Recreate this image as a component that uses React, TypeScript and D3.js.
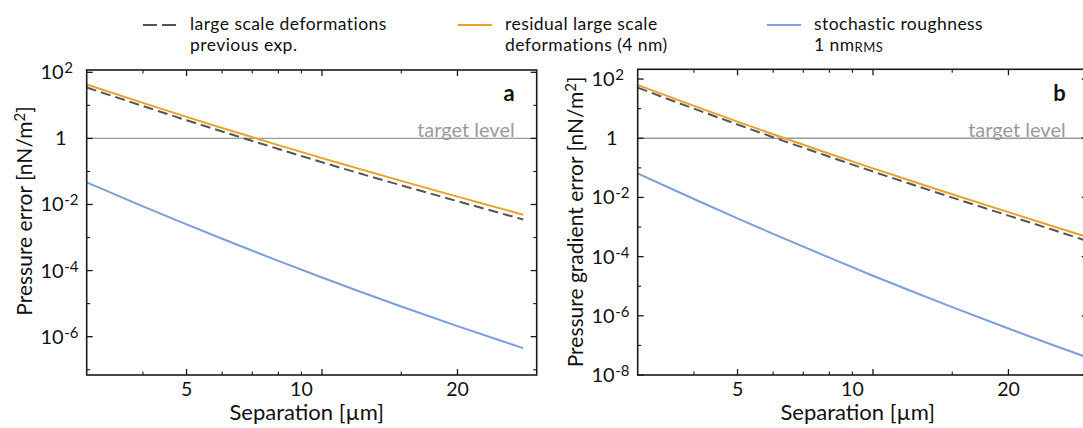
import React from 'react';
import * as d3 from 'd3';

// separations in µm
const separationA = [3, 4, 5, 6, 8, 10, 12, 15, 20, 25, 28];
const pressurePrevExp = [34.7, 9.55, 3.55, 1.62, 0.479, 0.19, 0.091, 0.038, 0.0126, 0.0054, 0.0035];
const pressureResidual = [42.7, 11.9, 4.49, 2.07, 0.627, 0.253, 0.124, 0.0518, 0.0173, 0.0075, 0.0049];
const pressureRoughness = [0.0468, 0.00881, 0.00249, 9.16e-4, 1.96e-4, 6.15e-5, 2.45e-5, 8.22e-6, 2.09e-6, 7.5e-7, 4.5e-7];

const separationB = [3, 4, 5, 6, 8, 10, 12, 15, 20, 25, 30];
const gradientPrevExp = [51.3, 10.0, 2.92, 1.08, 0.237, 0.075, 0.03, 0.00989, 0.00243, 0.000822, 0.000332];
const gradientResidual = [63.1, 12.4, 3.64, 1.36, 0.301, 0.0962, 0.0387, 0.0128, 0.00318, 0.00109, 0.000458];
const gradientRoughness = [0.0646, 0.00885, 0.00196, 5.9e-4, 9.23e-5, 2.26e-5, 7.45e-6, 1.97e-6, 3.72e-7, 1.05e-7, 3.87e-8];

const xMajorTicks = [5, 10, 20];
const xMinorTicks = [4, 6, 7, 8, 9, 15];
const xTickLabels = [
  { at: 5, text: '5' },
  { at: 9, text: '10' },
  { at: 20, text: '20' },
];

const yExpA = [2, 0, -2, -4, -6];
const yExpB = [2, 0, -2, -4, -6, -8];
const yMinorExp = [1, -1, -3, -5, -7];

const targetLevel = 1;

const COLORS = { prev: '#555555', residual: '#E9A12C', rough: '#7B9FD7', target: '#9a9a9a', frame: '#1a1a1a' };
const FONT = 'Lato, "Open Sans", sans-serif';

type PanelProps = {
  left: number; top: number; width: number; bottom: number;
  yDomain: [number, number];
  sep: number[]; prev: number[]; residual: number[]; rough: number[];
  yExp: number[]; yLabel: string; letter: string; labelY: number;
};

function Panel(p: PanelProps) {
  const x = d3.scaleLog().domain([3, 30]).range([p.left, p.left + p.width]);
  const y = d3.scaleLog().domain(p.yDomain).range([p.bottom, p.top]);
  const right = p.left + p.width;
  const line = (vals: number[]) =>
    d3.line<number>().x((_, i) => x(p.sep[i])).y(d => y(d)).curve(d3.curveMonotoneX)(vals) || '';

  const majLen = 6, minLen = 3.5;
  const clipId = 'clip-' + p.letter;

  return (
    <g>
      <defs>
        <clipPath id={clipId}>
          <rect x={p.left} y={p.top} width={p.width} height={p.bottom - p.top} />
        </clipPath>
      </defs>
      {/* target level */}
      <line x1={p.left} x2={right} y1={y(targetLevel)} y2={y(targetLevel)} stroke={COLORS.target} strokeWidth={1.3} />
      <text x={right - 22} y={y(targetLevel) - 1} textAnchor="end" fontFamily={FONT} fontSize={20} fill={COLORS.target}>target level</text>
      <text x={right - 22} y={101} textAnchor="end" fontFamily={FONT} fontSize={22} fontWeight="bold" fill="#111">{p.letter}</text>

      <g clipPath={`url(#${clipId})`} fill="none">
        <path d={line(p.rough)} stroke={COLORS.rough} strokeWidth={2} />
        <path d={line(p.residual)} stroke={COLORS.residual} strokeWidth={2} />
        <path d={line(p.prev)} stroke={COLORS.prev} strokeWidth={2} strokeDasharray="10,5" />
      </g>

      {/* frame */}
      <rect x={p.left} y={p.top} width={p.width} height={p.bottom - p.top} fill="none" stroke={COLORS.frame} strokeWidth={1.6} />

      {/* x ticks */}
      {xMajorTicks.map(t => (
        <g key={'xm' + t}>
          <line x1={x(t)} x2={x(t)} y1={p.bottom} y2={p.bottom - majLen} stroke={COLORS.frame} strokeWidth={1.3} />
          <line x1={x(t)} x2={x(t)} y1={p.top} y2={p.top + majLen} stroke={COLORS.frame} strokeWidth={1.3} />
        </g>
      ))}
      {xMinorTicks.map(t => (
        <g key={'xn' + t}>
          <line x1={x(t)} x2={x(t)} y1={p.bottom} y2={p.bottom - minLen} stroke={COLORS.frame} strokeWidth={1.1} />
          <line x1={x(t)} x2={x(t)} y1={p.top} y2={p.top + minLen} stroke={COLORS.frame} strokeWidth={1.1} />
        </g>
      ))}
      {xTickLabels.map(t => (
        <text key={'xl' + t.text} x={x(t.at)} y={396} textAnchor="middle" fontFamily={FONT} fontSize={19.5} fill="#111">{t.text}</text>
      ))}
      <text x={(p.left + right) / 2 - 5} y={420} textAnchor="middle" fontFamily={FONT} fontSize={22} fill="#111">Separation [µm]</text>

      {/* y ticks */}
      {p.yExp.map(e => {
        const yy = y(Math.pow(10, e));
        const bx = p.left - 23;
        return (
          <g key={'ym' + e}>
            <line x1={p.left} x2={p.left + majLen} y1={yy} y2={yy} stroke={COLORS.frame} strokeWidth={1.3} />
            <line x1={right} x2={right - majLen} y1={yy} y2={yy} stroke={COLORS.frame} strokeWidth={1.3} />
            {e === 0 ? (
              <text x={bx + 3} y={yy + 7} textAnchor="end" fontFamily={FONT} fontSize={20} fill="#111">1</text>
            ) : (
              <g>
                <text x={bx} y={yy + 7} textAnchor="end" fontFamily={FONT} fontSize={20} fill="#111">10</text>
                <text x={bx + 0.5} y={yy + 1} textAnchor="start" fontFamily={FONT} fontSize={15} fill="#111">{String(e)}</text>
              </g>
            )}
          </g>
        );
      })}
      {yMinorExp.map(e => {
        const yy = y(Math.pow(10, e));
        return (
          <g key={'yn' + e}>
            <line x1={p.left} x2={p.left + minLen} y1={yy} y2={yy} stroke={COLORS.frame} strokeWidth={1.1} />
            <line x1={right} x2={right - minLen} y1={yy} y2={yy} stroke={COLORS.frame} strokeWidth={1.1} />
          </g>
        );
      })}
      <text transform={`translate(${p.left - 55},${p.labelY}) rotate(-90)`} textAnchor="middle" fontFamily={FONT} fontSize={21} fill="#111">
        {p.yLabel} [nN/m<tspan dy={-7} fontSize={15}>2</tspan><tspan dy={7}>]</tspan>
      </text>
    </g>
  );
}

function Legend() {
  const items = [
    { x1: 143, lines: ['large scale deformations', 'previous exp.'], color: COLORS.prev, dash: '14,5' },
    { x1: 458, lines: ['residual large scale', 'deformations (4 nm)'], color: COLORS.residual, dash: undefined },
    { x1: 767, lines: ['stochastic roughness', '1 nm'], color: COLORS.rough, dash: undefined },
  ];
  return (
    <g fontFamily={FONT} fontSize={17.5} letterSpacing={0.45} fill="#111">
      {items.map((it, i) => (
        <g key={i}>
          <line x1={it.x1} x2={it.x1 + 34} y1={25} y2={25} stroke={it.color} strokeWidth={2} strokeDasharray={it.dash} />
          <text x={it.x1 + 47} y={30}>{it.lines[0]}</text>
          <text x={it.x1 + 47} y={51}>
            {it.lines[1]}
            {i === 2 && <tspan fontSize={13} dy={1}>RMS</tspan>}
          </text>
        </g>
      ))}
    </g>
  );
}

export default function App() {
  return (
    <svg width={1083} height={428} style={{ position: 'absolute', left: 0, top: 0, background: '#fff' }}>
      <rect width={1083} height={428} fill="#fff" />
      <Legend />
      <Panel left={86.7} top={70} width={450} bottom={375} yDomain={[Math.pow(10, -7.16), Math.pow(10, 2.07)]}
        sep={separationA} prev={pressurePrevExp} residual={pressureResidual} rough={pressureRoughness}
        yExp={yExpA} yLabel="Pressure error" letter="a" labelY={211} />
      <Panel left={637.7} top={69.3} width={450} bottom={375} yDomain={[1e-8, Math.pow(10, 2.33)]}
        sep={separationB} prev={gradientPrevExp} residual={gradientResidual} rough={gradientRoughness}
        yExp={yExpB} yLabel="Pressure gradient error" letter="b" labelY={222} />
    </svg>
  );
}
